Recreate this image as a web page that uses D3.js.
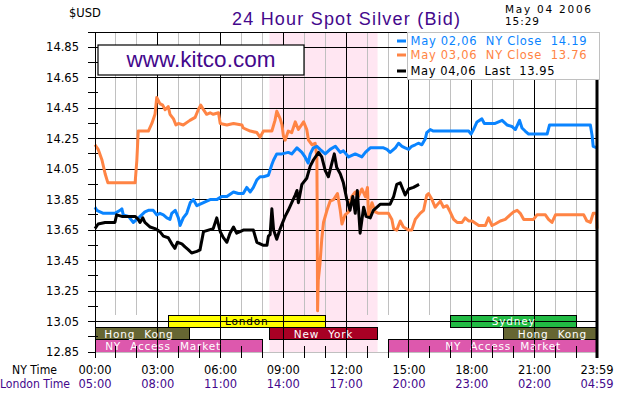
<!DOCTYPE html>
<html>
<head>
<meta charset="utf-8">
<script src="https://cdn.jsdelivr.net/npm/d3@7"></script>
<style>
body { margin: 0; background: #fff; }
svg { display: block; font-family: "DejaVu Sans", sans-serif; }
text { font-size: 11.5px; }
</style>
</head>
<body>
<svg id="chart" width="630" height="400"></svg>
<script>
/* values */
const priceTicks = [12.85, 13.05, 13.25, 13.45, 13.65, 13.85, 14.05, 14.25, 14.45, 14.65, 14.85];
const nyTimeLabels = ['00:00', '03:00', '06:00', '09:00', '12:00', '15:00', '18:00', '21:00', '23:59'];
const londonTimeLabels = ['05:00', '08:00', '11:00', '14:00', '17:00', '20:00', '23:00', '02:00', '04:59'];

const legendLabels = ['May 02,06  NY Close  14.19', 'May 03,06  NY Close  13.76', 'May 04,06  Last  13.95'];

// May 02 (blue)
const may02 = [["00:00",13.80],["00:05",13.78],["00:24",13.76],["00:57",13.76],["01:12",13.78],["01:17",13.79],["01:21",13.75],["01:36",13.74],["01:50",13.70],["02:00",13.72],["02:14",13.75],["02:23",13.77],["02:33",13.78],["02:47",13.78],["02:57",13.75],["03:06",13.76],["03:16",13.75],["03:26",13.73],["03:35",13.72],["03:40",13.76],["03:50",13.78],["03:59",13.73],["04:04",13.68],["04:13",13.73],["04:23",13.76],["04:33",13.83],["04:42",13.85],["04:52",13.81],["05:11",13.83],["05:30",13.85],["05:49",13.85],["06:03",13.87],["06:18",13.87],["06:37",13.90],["06:51",13.89],["07:05",13.89],["07:15",13.93],["07:25",13.90],["07:34",13.93],["07:44",13.98],["07:53",14.00],["08:03",14.00],["08:17",14.01],["08:27",14.08],["08:32",14.11],["08:41",14.15],["08:56",14.15],["09:14",14.16],["09:24",14.15],["09:39",14.19],["09:53",14.16],["10:02",14.13],["10:11",14.09],["10:17",14.15],["10:26",14.19],["10:36",14.20],["10:45",14.18],["11:00",14.15],["11:14",14.18],["11:29",14.20],["11:43",14.16],["11:52",14.17],["12:07",14.13],["12:26",14.15],["12:45",14.13],["12:55",14.16],["13:09",14.19],["13:23",14.19],["13:47",14.19],["13:57",14.18],["14:06",14.16],["14:21",14.19],["14:30",14.22],["14:40",14.20],["14:49",14.19],["14:59",14.18],["15:08",14.20],["15:18",14.21],["15:27",14.22],["15:37",14.21],["15:47",14.25],["15:51",14.29],["16:01",14.31],["16:10",14.30],["17:51",14.30],["17:58",14.28],["18:05",14.31],["18:15",14.36],["18:29",14.38],["18:36",14.35],["18:48",14.35],["19:07",14.35],["19:27",14.37],["19:41",14.34],["19:55",14.33],["20:05",14.31],["20:17",14.37],["20:24",14.32],["20:33",14.30],["20:43",14.28],["21:36",14.28],["21:43",14.34],["23:40",14.34],["23:45",14.27],["23:48",14.20],["23:59",14.19]];

// May 03 (orange)
const may03 = [["00:00",14.21],["00:09",14.18],["00:20",14.11],["00:29",14.02],["00:37",13.96],["01:55",13.96],["02:00",14.11],["02:04",14.30],["02:33",14.30],["02:43",14.35],["02:52",14.41],["02:57",14.52],["03:06",14.48],["03:14",14.47],["03:21",14.44],["03:30",14.46],["03:35",14.41],["03:45",14.38],["03:52",14.34],["03:59",14.35],["04:13",14.34],["04:32",14.37],["04:47",14.39],["04:56",14.44],["05:03",14.47],["05:11",14.44],["05:20",14.41],["05:30",14.42],["05:39",14.41],["05:54",14.42],["05:59",14.35],["06:18",14.34],["06:37",14.35],["07:01",14.34],["07:05",14.32],["07:25",14.30],["07:44",14.29],["07:53",14.26],["08:03",14.30],["08:27",14.30],["08:36",14.37],["08:41",14.43],["08:51",14.38],["08:56",14.34],["09:00",14.27],["09:05",14.24],["09:14",14.30],["09:24",14.29],["09:34",14.36],["09:43",14.31],["09:58",14.36],["10:07",14.31],["10:12",14.24],["10:22",14.21],["10:31",14.22],["10:36",14.13],["10:37",13.75],["10:38",13.12],["10:40",13.32],["10:45",13.43],["10:50",13.59],["10:55",13.70],["11:05",13.78],["11:14",13.84],["11:24",13.85],["11:35",13.89],["11:43",13.78],["11:48",13.69],["11:57",13.75],["12:07",13.77],["12:16",13.87],["12:26",13.90],["12:35",13.87],["12:45",13.92],["12:55",13.87],["13:01",13.93],["13:04",13.74],["13:14",13.83],["13:23",13.77],["13:33",13.76],["14:01",13.76],["14:11",13.72],["14:16",13.66],["14:25",13.65],["14:35",13.71],["14:44",13.67],["14:59",13.65],["15:08",13.65],["15:18",13.72],["15:32",13.76],["15:42",13.78],["15:51",13.88],["15:56",13.89],["16:06",13.85],["16:15",13.80],["16:30",13.84],["16:39",13.80],["16:49",13.81],["16:58",13.77],["17:08",13.72],["17:18",13.70],["17:32",13.70],["17:41",13.73],["17:51",13.71],["18:01",13.71],["18:20",13.68],["18:39",13.68],["18:48",13.73],["18:58",13.68],["19:07",13.69],["19:22",13.71],["19:36",13.72],["19:50",13.75],["20:00",13.77],["20:10",13.78],["20:19",13.76],["20:29",13.72],["20:57",13.72],["21:07",13.75],["21:31",13.75],["21:40",13.72],["21:50",13.70],["22:00",13.75],["23:21",13.75],["23:30",13.71],["23:40",13.70],["23:48",13.76],["23:57",13.76],["23:59",13.66]];

// May 04 (black, today)
const may04 = [["00:00",13.66],["00:09",13.69],["00:29",13.70],["00:57",13.70],["01:02",13.75],["01:17",13.74],["01:55",13.74],["02:04",13.72],["02:09",13.70],["02:17",13.73],["02:23",13.70],["02:38",13.67],["02:52",13.66],["03:06",13.64],["03:16",13.61],["03:30",13.60],["03:40",13.56],["03:49",13.53],["03:56",13.57],["04:09",13.56],["04:18",13.54],["04:28",13.52],["04:37",13.50],["04:52",13.51],["05:01",13.52],["05:11",13.64],["05:25",13.65],["05:39",13.66],["05:49",13.73],["05:59",13.64],["06:08",13.60],["06:18",13.57],["06:27",13.63],["06:37",13.67],["06:46",13.63],["06:56",13.64],["07:05",13.65],["07:34",13.65],["07:44",13.57],["08:03",13.55],["08:13",13.55],["08:17",13.61],["08:22",13.62],["08:27",13.79],["08:32",13.65],["08:41",13.59],["08:51",13.66],["09:05",13.74],["09:14",13.78],["09:24",13.83],["09:34",13.88],["09:39",13.91],["09:43",13.83],["09:53",13.95],["10:07",13.99],["10:17",14.07],["10:26",14.11],["10:41",14.16],["10:50",14.13],["11:00",14.04],["11:09",14.00],["11:19",14.09],["11:26",14.15],["11:33",14.06],["11:43",14.02],["11:52",13.96],["12:02",13.85],["12:11",13.78],["12:19",13.87],["12:26",13.76],["12:32",13.91],["12:40",13.63],["12:50",13.80],["12:57",13.74],["13:09",13.73],["13:18",13.78],["13:38",13.82],["14:06",13.82],["14:16",13.87],["14:25",13.95],["14:35",13.96],["14:49",13.88],["14:59",13.92],["15:13",13.93],["15:29",13.95]];

// market sessions (NY time)
const sessionNames = ['London', 'Sydney', 'Hong Kong', 'New York', 'Hong Kong', 'NY Access Market', 'NY Access Market'];
const sessionStart = ['03:30', '17:00', '00:00', '08:20', '19:30', '00:00', '14:00'];
const sessionEnd   = ['11:00', '23:00', '04:30', '13:30', '23:59', '08:00', '23:59'];
const sessionLane  = [0, 0, 1, 1, 1, 2, 2];
const sessionLabelAt = ['07:15', '20:00', '02:06', '10:55', '21:51', '03:15', '19:30'];
const nyTrading = ['08:20', '13:30'];

/* styles */
const sessionColors = { 'London': '#ffff00', 'Sydney': '#22bb44', 'Hong Kong': '#666633', 'New York': '#a80024', 'NY Access Market': '#dd58ad' };
const sessionText = { 'London': '#000', 'Sydney': '#fff', 'Hong Kong': '#fff', 'New York': '#fff', 'NY Access Market': '#fff' };
const seriesColors = ['#0a84ff', '#ff8444', '#000000'];
const purple = '#44088c';

let svg = d3.select('#chart');
let toMin = (s) => { let p = s.split(':'); return +p[0]*60 + +p[1]; };

let x = d3.scaleLinear().domain([0, 1439]).range([95, 597]);
let y = d3.scaleLinear().domain([12.85, 14.95]).range([352, 32]);
let lane = d3.scaleBand().domain([0, 1, 2]).range([315, 352]);
const plotTop = y(14.95), plotBottom = y(12.85);

// NY trading shading
svg.append('rect').attr('x', x(toMin(nyTrading[0]))).attr('y', plotTop)
    .attr('width', x(toMin(nyTrading[1])) - x(toMin(nyTrading[0]))).attr('height', plotBottom - plotTop)
    .attr('fill', '#ffe6f2');

// hourly grey lines
let hours = d3.range(0, 24);
svg.selectAll('.hgrid').data(hours.filter(h => h % 3 !== 0)).enter().append('line')
    .attr('x1', h => x(h*60)).attr('x2', h => x(h*60))
    .attr('y1', plotTop).attr('y2', lane.range()[0])
    .attr('stroke', '#c0c0c0').attr('shape-rendering', 'crispEdges');

// session bars
let sessions = sessionNames.map((n, i) => ({ name: n, s: toMin(sessionStart[i]), e: toMin(sessionEnd[i]), lane: sessionLane[i], at: toMin(sessionLabelAt[i]) }));
svg.selectAll('.bar').data(sessions).enter().append('rect')
    .attr('x', d => x(d.s)).attr('y', d => lane(d.lane))
    .attr('width', d => x(d.e) - x(d.s)).attr('height', lane.bandwidth())
    .attr('fill', d => sessionColors[d.name]).attr('stroke', '#000').attr('shape-rendering', 'crispEdges');

// 3-hour black lines
svg.selectAll('.vgrid').data(hours.filter(h => h % 3 === 0)).enter().append('line')
    .attr('x1', h => x(h*60)).attr('x2', h => x(h*60))
    .attr('y1', plotTop).attr('y2', plotBottom + 6)
    .attr('stroke', '#000').attr('shape-rendering', 'crispEdges');

// horizontal lines + minor ticks
svg.selectAll('.ygrid').data(priceTicks.slice(1)).enter().append('line')
    .attr('x1', 88).attr('x2', x(1439)).attr('y1', d => y(d)).attr('y2', d => y(d))
    .attr('stroke', '#000').attr('shape-rendering', 'crispEdges');
svg.selectAll('.ymajor0').data([priceTicks[0]]).enter().append('line')
    .attr('x1', 88).attr('x2', x(0)).attr('y1', d => y(d)).attr('y2', d => y(d))
    .attr('stroke', '#000').attr('shape-rendering', 'crispEdges');
svg.selectAll('.yminor').data(priceTicks.map(v => v + 0.1)).enter().append('line')
    .attr('x1', 88).attr('x2', 98).attr('y1', d => y(d)).attr('y2', d => y(d))
    .attr('stroke', '#000').attr('shape-rendering', 'crispEdges');

// bar labels
svg.selectAll('.barlabel').data(sessions).enter().append('text')
    .attr('x', d => x(d.at)).attr('y', d => lane(d.lane) + lane.bandwidth()/2 + 4)
    .attr('text-anchor', 'middle').attr('fill', d => sessionText[d.name])
    .style('font-size', '10.5px').style('letter-spacing', '0.8px').style('word-spacing', '5px')
    .text(d => d.name);

// bottom axis line & hour ticks
svg.append('line').attr('x1', x(0)).attr('x2', x(1439)).attr('y1', plotBottom).attr('y2', plotBottom)
    .attr('stroke', '#c0c0c0').attr('shape-rendering', 'crispEdges');
svg.selectAll('.xtick').data(hours).enter().append('line')
    .attr('x1', h => x(h*60)).attr('x2', h => x(h*60))
    .attr('y1', plotBottom - 6).attr('y2', plotBottom + 6)
    .attr('stroke', '#000').attr('shape-rendering', 'crispEdges');

// price lines
let line = d3.line().x(d => x(toMin(d[0]))).y(d => y(d[1]));
[[may03, seriesColors[1]], [may02, seriesColors[0]], [may04, seriesColors[2]]].forEach(([s, c]) => {
    svg.append('path').attr('d', line(s)).attr('fill', 'none')
        .attr('stroke', c).attr('stroke-width', 3).attr('stroke-linejoin', 'round');
});

// frame
svg.append('line').attr('x1', x(0)).attr('x2', x(0)).attr('y1', plotTop).attr('y2', plotBottom + 6)
    .attr('stroke', '#000').attr('shape-rendering', 'crispEdges');
svg.append('line').attr('x1', x(0)).attr('x2', x(1439)).attr('y1', plotTop).attr('y2', plotTop)
    .attr('stroke', '#000').attr('shape-rendering', 'crispEdges');
svg.append('line').attr('x1', x(1439)).attr('x2', x(1439)).attr('y1', plotTop).attr('y2', plotBottom + 6)
    .attr('stroke', '#000').attr('stroke-width', 3);

// y labels
svg.selectAll('.ylabel').data(priceTicks).enter().append('text')
    .attr('x', 79).attr('y', d => y(d) + 4).attr('text-anchor', 'end')
    .text(d => d.toFixed(2));

// x labels
svg.selectAll('.nylabel').data(nyTimeLabels).enter().append('text')
    .attr('x', d => x(toMin(d))).attr('y', 374).attr('text-anchor', 'middle').text(d => d);
svg.selectAll('.ldnlabel').data(londonTimeLabels).enter().append('text')
    .attr('x', (d, i) => x(toMin(nyTimeLabels[i]))).attr('y', 387.5).attr('text-anchor', 'middle')
    .attr('fill', purple).text(d => d);
svg.append('text').attr('x', 12).attr('y', 374)
    .attr('textLength', 45).attr('lengthAdjust', 'spacingAndGlyphs').text('NY Time');
svg.append('text').attr('x', 0).attr('y', 387.5).attr('fill', purple)
    .attr('textLength', 70).attr('lengthAdjust', 'spacingAndGlyphs').text('London Time');

// legend
let legend = svg.append('g');
legend.append('rect').attr('x', 407).attr('y', plotTop).attr('width', x(1439) - 407 + 2).attr('height', 47)
    .attr('fill', '#fff').attr('stroke', '#c0c0c0').attr('shape-rendering', 'crispEdges');
let legendY = [45, 59, 75];
let legendW = [176, 176, 144];
legendLabels.forEach((t, i) => {
    legend.append('rect').attr('x', 397).attr('y', legendY[i] - 5.5).attr('width', 9).attr('height', 3)
        .attr('fill', seriesColors[i]);
    legend.append('text').attr('x', 410.5).attr('y', legendY[i]).attr('fill', seriesColors[i])
        .style('white-space', 'pre')
        .attr('textLength', legendW[i]).attr('lengthAdjust', 'spacing').text(t);
});

// kitco box
svg.append('rect').attr('x', 98).attr('y', 45).attr('width', 206).attr('height', 30)
    .attr('fill', '#fff').attr('stroke', '#000').attr('stroke-width', 1.2);
svg.append('text').attr('x', 201).attr('y', 67).attr('text-anchor', 'middle')
    .attr('fill', purple).style('font-family', '"Liberation Sans", Arial, sans-serif').style('font-size', '22.5px')
    .text('www.kitco.com');

// header texts
svg.append('text').attr('x', 232).attr('y', 25).attr('fill', purple)
    .style('font-family', '"Liberation Sans", Arial, sans-serif').style('font-size', '18px')
    .attr('textLength', 228).attr('lengthAdjust', 'spacing')
    .text('24 Hour Spot Silver (Bid)');
svg.append('text').attr('x', 69).attr('y', 17).text('$USD');
svg.append('text').attr('x', 505).attr('y', 12.5).style('font-size', '10.5px')
    .attr('textLength', 86).attr('lengthAdjust', 'spacing').text('May 04 2006');
svg.append('text').attr('x', 505).attr('y', 24.5).style('font-size', '10.5px')
    .attr('textLength', 34).attr('lengthAdjust', 'spacing').text('15:29');
</script>
</body>
</html>
